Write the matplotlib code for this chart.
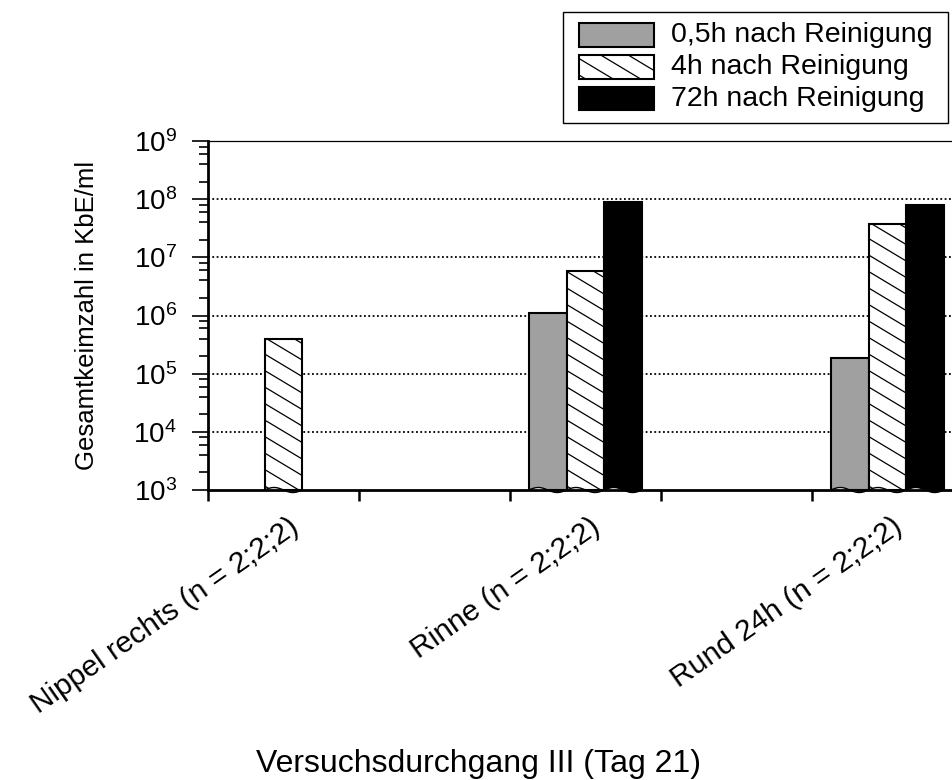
import numpy as np
import matplotlib
matplotlib.use('Agg')
import matplotlib.pyplot as plt
from matplotlib.patches import Rectangle
from matplotlib.collections import LineCollection
from matplotlib.transforms import IdentityTransform, offset_copy
from matplotlib.ticker import LogLocator, NullFormatter

plt.rcParams['font.family'] = ['Liberation Sans', 'DejaVu Sans']
plt.rcParams['mathtext.fontset'] = 'custom'
plt.rcParams['mathtext.rm'] = 'Liberation Sans'

# Daten (KbE/ml), None = kein Wert
kategorien = ['Nippel rechts (n = 2;2;2)', 'Rinne (n = 2;2;2)', 'Rund 24h (n = 2;2;2)']
serien_namen = ['0,5h nach Reinigung', '4h nach Reinigung', '72h nach Reinigung']
werte_05h = [None, 1.1e6, 1.85e5]
werte_4h = [4.0e5, 5.8e6, 3.8e7]
werte_72h = [None, 8.8e7, 7.8e7]
y_achse = 'Gesamtkeimzahl in KbE/ml'
x_achse = 'Versuchsdurchgang III (Tag 21)'

W, H = 952, 780
GRAU = '#a0a0a0'


def schraffur(x0, y0, x1, y1, abstand=16.5, steigung=0.6):
    """Schraege Linien (\\) in Pixelkoordinaten fuer ein Rechteck."""
    w = x1 - x0
    segs = []
    c = y0 + 4
    while c < y1 + steigung * w:
        segs.append([(x0, c), (x1, c - steigung * w)])
        c += abstand
    return segs


fig = plt.figure(figsize=(W / 100, H / 100), dpi=100)
ax = fig.add_axes([208 / W, 1 - 490 / H, 755 / W, 349 / H])
ax.set_yscale('log')
ax.set_ylim(1e3, 1e9)
ax.set_xlim(0, 5)

for y in [1e4, 1e5, 1e6, 1e7, 1e8]:
    ax.axhline(y, color='k', lw=1.3, ls=(0, (1, 1.4)), zorder=0.5)

x_pos = np.arange(len(kategorien)) * 2 + 0.5
breite = 0.25
serien = [werte_05h, werte_4h, werte_72h]
farben = [GRAU, 'white', 'black']
schraffiert = [False, True, False]
amp = 2.5 / 58.2  # Wellenhoehe in Dekaden

for i, (werte, farbe, hatch) in enumerate(zip(serien, farben, schraffiert)):
    for j, v in enumerate(werte):
        if v is None:
            continue
        x = x_pos[j] + (i - 1) * breite
        bars = ax.bar(x, v - 1e3, bottom=1e3, width=breite, color=farbe,
                      edgecolor='k', lw=1.5, zorder=1)
        rect = bars.patches[0]
        if hatch:
            (px0, py0), (px1, py1) = ax.transData.transform(
                [(x - breite / 2, 1e3), (x + breite / 2, v)])
            lc = LineCollection(schraffur(px0, py0, px1, py1), colors='k',
                                linewidths=0.9, transform=IdentityTransform())
            ax.add_collection(lc, autolim=False)
            lc.set_clip_path(rect)
        # gewellter Unterrand (Achsenbruch)
        t = np.linspace(0, 1, 80)
        xs = x - breite / 2 + t * breite
        ys = 10 ** (3 + amp * np.sin(2 * np.pi * t))
        ax.fill_between(xs, 1e3, ys, where=ys >= 1e3, color='white', lw=0, zorder=2.2)
        ax.fill_between(xs, ys, 1e3, where=ys <= 1e3, color=farbe, lw=0,
                        clip_on=False, zorder=2.2)
        ax.plot(xs, ys, color='k', lw=1.0, clip_on=False, zorder=2.3)

ax.yaxis.set_major_locator(LogLocator(base=10, numticks=10))
ax.yaxis.set_minor_locator(LogLocator(base=10, subs=[2, 4, 6, 8], numticks=10))
ax.yaxis.set_minor_formatter(NullFormatter())
ax.tick_params(axis='y', which='major', length=11.5, width=1.2, direction='out',
               labelsize=20, pad=11)
ax.tick_params(axis='y', which='minor', length=6.5, width=1.2, direction='out')
ax.set_xticks([0, 1, 2, 3, 4, 5])
ax.set_xticklabels([])
ax.tick_params(axis='x', which='major', length=8, width=1.8, direction='out')

ax.spines['left'].set_linewidth(2)
ax.spines['bottom'].set_linewidth(2)
ax.spines['top'].set_linewidth(0.9)
ax.spines['right'].set_visible(False)

trans = offset_copy(ax.get_xaxis_transform(), fig=fig, x=12, y=-34, units='dots')
for x, name in zip(x_pos, kategorien):
    ax.text(x, 0, name, transform=trans, rotation=35, rotation_mode='anchor',
            ha='right', va='center', fontsize=21.5)

fig.text(87 / W, 1 - 315 / H, y_achse, rotation=90, ha='center', va='center', fontsize=18.5)
fig.text(479 / W, 1 - 772 / H, x_achse, ha='center', va='baseline', fontsize=23)

# Legende von Hand
fig.add_artist(Rectangle((563 / W, 1 - 123 / H), (948 - 563) / W, 111 / H,
                         transform=fig.transFigure, fill=False, ec='k', lw=1))
zeilen = [(23, 47), (55, 79), (87, 110)]
for (top, bot), name, farbe, hatch in zip(zeilen, serien_namen, farben, schraffiert):
    r = Rectangle((579 / W, 1 - bot / H), 75 / W, (bot - top) / H,
                  transform=fig.transFigure, fc=farbe, ec='k', lw=1.5)
    fig.add_artist(r)
    if hatch:
        lc = LineCollection(schraffur(579, H - bot, 654, H - top), colors='k',
                            linewidths=0.9, transform=IdentityTransform())
        lc.set_clip_path(r)
        fig.add_artist(lc)
    fig.text(671 / W, 1 - (top + bot) / 2 / H, name, ha='left', va='center', fontsize=20.5)

fig.savefig('out.png', dpi=100)
